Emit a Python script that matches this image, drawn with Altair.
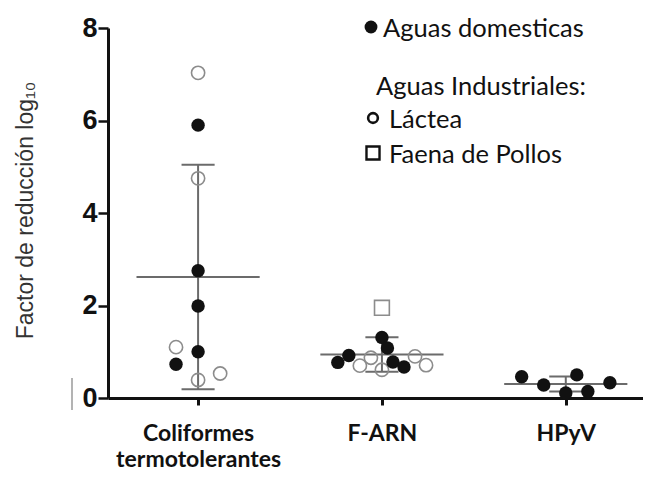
import altair as alt
import pandas as pd

categorias = ["Coliformes termotolerantes", "F-ARN", "HPyV"]

# D = Aguas domesticas, L = Láctea, P = Faena de Pollos
col_valores = [7.03, 5.90, 4.75, 2.75, 1.99, 1.10, 1.00, 0.73, 0.39, 0.53]
col_tipos = ["L", "D", "L", "D", "D", "L", "D", "D", "L", "L"]
col_jitter = [0, 0, 0, 0, 0, -0.12, 0, -0.12, 0, 0.12]

farn_valores = [1.95, 1.31, 1.08, 0.92, 0.77, 0.78, 0.67, 0.70, 0.87, 0.61, 0.90, 0.71]
farn_tipos = ["P", "D", "D", "D", "D", "D", "D", "L", "L", "L", "L", "L"]
farn_jitter = [0, 0, 0.03, -0.18, -0.24, 0.06, 0.12, -0.12, -0.06, 0, 0.18, 0.24]

hpyv_valores = [0.46, 0.28, 0.50, 0.33, 0.11, 0.14]
hpyv_tipos = ["D", "D", "D", "D", "D", "D"]
hpyv_jitter = [-0.24, -0.12, 0.06, 0.24, 0, 0.12]

leyenda = ["Aguas domesticas", "Aguas Industriales:", "Láctea", "Faena de Pollos"]
y_titulo = "Factor de reducción log₁₀"

rows = []
for idx, (vals, tips, jit) in enumerate([(col_valores, col_tipos, col_jitter),
                                          (farn_valores, farn_tipos, farn_jitter),
                                          (hpyv_valores, hpyv_tipos, hpyv_jitter)]):
    for v, t, j in zip(vals, tips, jit):
        rows.append({"idx": idx, "cat": categorias[idx], "valor": v, "tipo": t, "xp": idx + j})
df = pd.DataFrame(rows)

xscale = alt.Scale(domain=[-0.49, 2.42], nice=False, zero=False)
yscale = alt.Scale(domain=[0, 8], nice=False)

label_expr = ("datum.value == 0 ? ['Coliformes','termotolerantes'] : "
              "datum.value == 1 ? 'F-ARN' : 'HPyV'")

xaxis = alt.Axis(values=[0, 1, 2], labelExpr=label_expr, title=None, grid=False,
                 domainColor="#111", domainWidth=3, tickColor="#111", tickWidth=3,
                 tickSize=7, labelFont="Lato", labelFontWeight="bold", labelFontSize=23,
                 labelColor="#111", labelPadding=17, labelLineHeight=26,
                 labelAngle=0, labelAlign="center")
yaxis = alt.Axis(values=[0, 2, 4, 6, 8], title=y_titulo, grid=False,
                 domainColor="#111", domainWidth=3, tickColor="#111", tickWidth=2.5,
                 tickSize=10, labelFont="Liberation Sans", labelFontWeight="bold",
                 labelFontSize=27, labelColor="#111", labelPadding=1,
                 titleFont="Liberation Sans", titleFontWeight="normal", titleFontSize=23,
                 titleColor="#333", titleAngle=270, titleX=-83, titleY=182,
                 titleAlign="center", titleBaseline="middle")

base = alt.Chart(df)
gris = "#6b6b6b"

summary = base.transform_aggregate(
    media="mean(valor)", sd="stdev(valor)", groupby=["idx"]
).transform_calculate(
    lo="datum.media - datum.sd", hi="datum.media + datum.sd",
    xl="datum.idx - 0.335", xr="datum.idx + 0.335",
    cl="datum.idx - 0.09", cr="datum.idx + 0.09"
)

mean_line = summary.mark_rule(color=gris, strokeWidth=2).encode(
    x=alt.X("xl:Q", scale=xscale, axis=xaxis), x2="xr:Q",
    y=alt.Y("media:Q", scale=yscale, axis=yaxis))
vbar = summary.mark_rule(color=gris, strokeWidth=2).encode(
    x=alt.X("idx:Q", scale=xscale), y=alt.Y("lo:Q", scale=yscale), y2="hi:Q")
cap_hi = summary.mark_rule(color=gris, strokeWidth=2).encode(
    x=alt.X("cl:Q", scale=xscale), x2="cr:Q", y=alt.Y("hi:Q", scale=yscale))
cap_lo = summary.mark_rule(color=gris, strokeWidth=2).encode(
    x=alt.X("cl:Q", scale=xscale), x2="cr:Q", y=alt.Y("lo:Q", scale=yscale))

open_c = base.transform_filter("datum.tipo == 'L'").mark_point(
    shape="circle", filled=False, size=175, stroke="#8c8c8c", strokeWidth=1.6, opacity=1
).encode(x=alt.X("xp:Q", scale=xscale), y=alt.Y("valor:Q", scale=yscale))
squares = base.transform_filter("datum.tipo == 'P'").mark_point(
    shape="square", filled=False, size=220, stroke="#8c8c8c", strokeWidth=1.6, opacity=1
).encode(x=alt.X("xp:Q", scale=xscale), y=alt.Y("valor:Q", scale=yscale))
filled_c = base.transform_filter("datum.tipo == 'D'").mark_circle(
    size=180, color="#111", opacity=1
).encode(x=alt.X("xp:Q", scale=xscale), y=alt.Y("valor:Q", scale=yscale))

one = alt.Chart(pd.DataFrame({"a": [0]}))
stray = one.mark_rule(color="#9a9a9a", strokeWidth=1.5).encode(
    x=alt.value(-36), y=alt.value(350), y2=alt.value(382))

leg_font = dict(font="Lato", fontSize=25.5, color="#111", align="left", baseline="alphabetic")
leg_dot = one.mark_circle(size=165, color="#111", opacity=1).encode(
    x=alt.value(263), y=alt.value(-1))
leg_t1 = one.mark_text(**leg_font).encode(x=alt.value(275), y=alt.value(9), text=alt.value(leyenda[0]))
leg_t2 = one.mark_text(**leg_font).encode(x=alt.value(268), y=alt.value(67), text=alt.value(leyenda[1]))
leg_oc = one.mark_point(shape="circle", filled=False, size=95, stroke="#111", strokeWidth=2.6, opacity=1).encode(
    x=alt.value(265), y=alt.value(90))
leg_t3 = one.mark_text(**leg_font).encode(x=alt.value(281), y=alt.value(100), text=alt.value(leyenda[2]))
leg_sq = one.mark_point(shape="square", filled=False, size=170, stroke="#111", strokeWidth=2.4, opacity=1).encode(
    x=alt.value(265), y=alt.value(125))
leg_t4 = one.mark_text(**leg_font).encode(x=alt.value(281), y=alt.value(135), text=alt.value(leyenda[3]))

chart = alt.layer(
    mean_line, vbar, cap_hi, cap_lo, open_c, squares, filled_c,
    stray, leg_dot, leg_t1, leg_t2, leg_oc, leg_t3, leg_sq, leg_t4
).properties(
    width=535, height=370,
    autosize=alt.AutoSizeParams(type="none"),
    padding={"left": 100, "top": 20, "right": 0, "bottom": 72},
    background="white"
).configure_view(stroke=None)

chart.save("out.html", embed_options={"renderer": "svg", "actions": False})
